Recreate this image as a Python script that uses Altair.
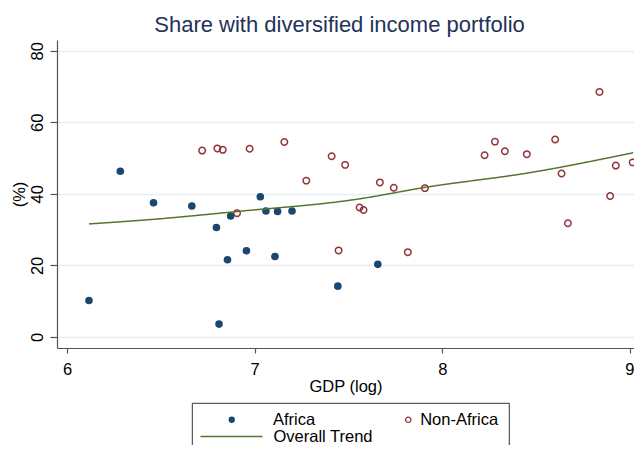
import altair as alt
import pandas as pd

# ---- data ----
africa_gdp = [6.117, 6.284, 6.461, 6.665, 6.796, 6.810, 6.855, 6.872, 6.956, 7.030,
              7.060, 7.108, 7.122, 7.199, 7.443, 7.656]
africa_share = [10.2, 46.3, 37.5, 36.6, 30.6, 3.6, 21.6, 33.8, 24.1, 39.2,
                35.2, 22.5, 35.1, 35.2, 14.2, 20.3]

nonafrica_gdp = [6.720, 6.801, 6.830, 6.906, 6.973, 7.158, 7.275, 7.410, 7.447, 7.482,
                 7.559, 7.580, 7.667, 7.741, 7.816, 7.907, 8.225, 8.280, 8.333, 8.450,
                 8.601, 8.635, 8.669, 8.837, 8.894, 8.924, 9.014]
nonafrica_share = [52.1, 52.7, 52.3, 34.6, 52.6, 54.5, 43.7, 50.5, 24.2, 48.1,
                   36.2, 35.5, 43.2, 41.7, 23.7, 41.6, 50.8, 54.6, 51.9, 51.1,
                   55.2, 45.7, 31.8, 68.5, 39.4, 47.9, 48.8]

trend_gdp = [6.117, 6.441, 6.973, 7.399, 7.505, 7.931, 8.463, 9.017]
trend_share = [31.6, 32.8, 35.4, 37.5, 38.2, 42.0, 45.9, 51.5]

x_ticks = [6, 7, 8, 9]
y_ticks = [0, 20, 40, 60, 80]

NAVY = "#1a476f"
MAROON = "#90353b"
GREEN = "#55752f"
FONT = "Liberation Sans"
FS = 16.5

df_a = pd.DataFrame({"gdp": africa_gdp, "share": africa_share, "grp": "Africa"})
df_n = pd.DataFrame({"gdp": nonafrica_gdp, "share": nonafrica_share, "grp": "Non-Africa"})
df_t = pd.DataFrame({"gdp": trend_gdp, "share": trend_share, "grp": "Overall Trend"})

W, H = 577, 308
x_scale = alt.Scale(domain=[5.9467, 9.021], nice=False, zero=False)
y_scale = alt.Scale(domain=[-3.08, 83.0], nice=False, zero=False)

x_enc = alt.X("gdp:Q", scale=x_scale,
              axis=alt.Axis(values=x_ticks, title="GDP (log)", grid=False,
                            tickSize=5, labelPadding=8, titlePadding=1,
                            labelFlush=5, labelFlushOffset=4,
                            format="d"))
y_enc = alt.Y("share:Q", scale=y_scale,
              axis=alt.Axis(values=y_ticks, title="(%)", grid=True,
                            gridColor="#e6eef2", gridWidth=1.5,
                            tickSize=7, labelAngle=270, labelAlign="center",
                            labelBaseline="bottom", labelPadding=5,
                            titlePadding=2, format="d"))

africa = alt.Chart(df_a).mark_circle(size=58, opacity=1).encode(
    x=x_enc, y=y_enc,
    fill=alt.Fill("grp:N", title=None,
                  scale=alt.Scale(domain=["Africa"], range=[NAVY]),
                  legend=alt.Legend(orient="none", legendX=166.5, legendY=371.5,
                                    padding=0, symbolType="circle", symbolSize=40,
                                    symbolStrokeWidth=0,
                                    labelOffset=33, labelFontSize=FS, labelFont=FONT,
                                    labelColor="black")),
)

nonafrica = alt.Chart(df_n).mark_point(size=42, filled=False, strokeWidth=1.5,
                                       color=MAROON, opacity=1).encode(
    x=x_enc, y=y_enc,
    shape=alt.Shape("grp:N", title=None,
                    scale=alt.Scale(domain=["Non-Africa"], range=["circle"]),
                    legend=alt.Legend(orient="none", legendX=343, legendY=371.5,
                                      padding=0, symbolSize=28, symbolStrokeWidth=1.3,
                                      symbolStrokeColor=MAROON,
                                      symbolFillColor="transparent",
                                      labelOffset=3.7, labelFontSize=FS, labelFont=FONT,
                                      labelColor="black")),
)

trend = alt.Chart(df_t).mark_line(color=GREEN, strokeWidth=1.5,
                                  interpolate="monotone").encode(
    x=x_enc, y=y_enc,
    strokeDash=alt.StrokeDash("grp:N", title=None,
                              scale=alt.Scale(domain=["Overall Trend"], range=[[1, 0]]),
                              legend=alt.Legend(orient="none", legendX=142.5, legendY=364.5,
                                                padding=0, symbolType="stroke",
                                                symbolSize=3844, symbolStrokeWidth=1.5,
                                                symbolStrokeColor=GREEN,
                                                labelOffset=10, labelFontSize=FS,
                                                labelFont=FONT, labelColor="black")),
)

legend_box = alt.Chart(pd.DataFrame({"k": [0]})).mark_rect(
    filled=False, color="#333333", strokeWidth=1
).encode(x=alt.value(135.3), x2=alt.value(452.3), y=alt.value(363.3), y2=alt.value(440))

chart = alt.layer(africa, nonafrica, trend, legend_box).properties(
    width=W, height=H,
    title=alt.TitleParams("Share with diversified income portfolio",
                          fontSize=22, font=FONT, fontWeight="normal",
                          color="#223258", anchor="middle", dx=-6, dy=23,
                          baseline="alphabetic", offset=9),
    autosize=alt.AutoSizeParams(type="none"),
    padding={"left": 49, "top": 32, "right": 0, "bottom": 97},
).configure_view(stroke=None).configure_axis(
    labelFont=FONT, titleFont=FONT, labelFontSize=FS, titleFontSize=FS,
    labelColor="black", titleColor="black", titleFontWeight="normal",
    domainColor="#555555", tickColor="#555555", domainWidth=1.2, tickWidth=1.2,
)

chart.save("out.html", embed_options={"renderer": "svg", "actions": False})
